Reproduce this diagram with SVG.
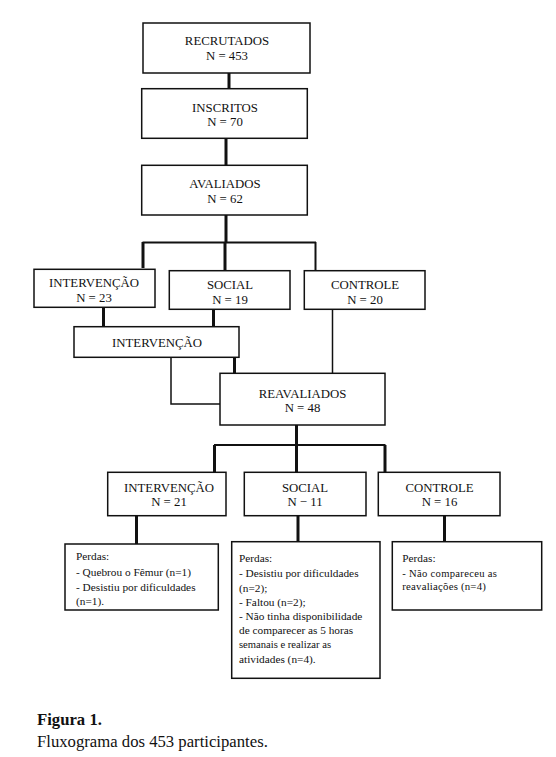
<svg xmlns="http://www.w3.org/2000/svg" width="556" height="757" viewBox="0 0 556 757">
<style>
.box{fill:#fff;stroke:#111;stroke-width:1.5}
.t{font-family:"Liberation Serif","Times New Roman","DejaVu Serif",serif;font-size:12.8px;fill:#111;text-anchor:middle}
.s{font-family:"Liberation Serif","Times New Roman","DejaVu Serif",serif;font-size:11.3px;fill:#111}
.cap{font-family:"Liberation Serif","Times New Roman","DejaVu Serif",serif;font-size:16.7px;fill:#111}
.thick{stroke:#111;stroke-width:3;fill:none}
.thin{stroke:#111;stroke-width:1.5;fill:none}
.mid{stroke:#111;stroke-width:2;fill:none}
</style>
<rect width="556" height="757" fill="#fff"/>
<g id="connectors">
<line class="thick" x1="229" y1="73" x2="229" y2="89"/>
<line class="thick" x1="226" y1="138" x2="226" y2="165"/>
<line class="thick" x1="226" y1="215" x2="226" y2="242"/>
<line class="mid" x1="142.5" y1="242.5" x2="316" y2="242.5"/>
<line class="thick" x1="143" y1="242" x2="143" y2="268"/>
<line class="thick" x1="225" y1="242" x2="225" y2="270"/>
<line class="mid" x1="315.5" y1="242" x2="315.5" y2="270"/>
<line class="thick" x1="103.5" y1="307" x2="103.5" y2="327"/>
<line class="thick" x1="213.5" y1="309" x2="213.5" y2="327"/>
<line class="thick" x1="234.5" y1="357" x2="234.5" y2="373"/>
<polyline class="thin" points="171,357 171,404 220,404"/>
<line class="thin" x1="332.5" y1="309" x2="332.5" y2="373"/>
<line class="thick" x1="296.5" y1="425" x2="296.5" y2="445"/>
<line class="mid" x1="214" y1="445" x2="385.5" y2="445"/>
<line class="thick" x1="214.5" y1="445" x2="214.5" y2="472"/>
<line class="thick" x1="296.5" y1="445" x2="296.5" y2="472"/>
<line class="thick" x1="385" y1="445" x2="385" y2="472"/>
<line class="thick" x1="136.5" y1="516" x2="136.5" y2="544"/>
<line class="thick" x1="298" y1="516" x2="298" y2="542"/>
<line class="thick" x1="444.5" y1="516" x2="444.5" y2="542"/>
</g>
<g id="recrutados"><rect class="box" x="143" y="23" width="167" height="50"/><text class="t" x="227" y="45">RECRUTADOS</text><text class="t" x="227" y="60">N = 453</text></g>
<g id="inscritos"><rect class="box" x="141.7" y="88.7" width="165.6" height="49.6"/><text class="t" x="225" y="111.5">INSCRITOS</text><text class="t" x="225" y="126">N = 70</text></g>
<g id="avaliados"><rect class="box" x="141.7" y="165.3" width="165.6" height="49.7"/><text class="t" x="225" y="188">AVALIADOS</text><text class="t" x="225" y="203">N = 62</text></g>
<g id="intervencao1"><rect class="box" x="34" y="269.3" width="121" height="38"/><text class="t" x="94" y="287.3">INTERVENÇÃO</text><text class="t" x="94" y="302.3">N = 23</text></g>
<g id="social1"><rect class="box" x="169.3" y="270.7" width="120.7" height="38.6"/><text class="t" x="230" y="289">SOCIAL</text><text class="t" x="230" y="304">N = 19</text></g>
<g id="controle1"><rect class="box" x="304.3" y="270.7" width="120.7" height="38.6"/><text class="t" x="365" y="289">CONTROLE</text><text class="t" x="365" y="304">N = 20</text></g>
<g id="intervencao-mid"><rect class="box" x="74" y="326.7" width="165" height="30.6"/><text class="t" x="157" y="346.7">INTERVENÇÃO</text></g>
<g id="reavaliados"><rect class="box" x="220" y="373.3" width="165" height="51.7"/><text class="t" x="302.5" y="398.3">REAVALIADOS</text><text class="t" x="302.5" y="412">N = 48</text></g>
<g id="intervencao2"><rect class="box" x="107.7" y="472.3" width="118.3" height="43.4"/><text class="t" x="169" y="491.7">INTERVENÇÃO</text><text class="t" x="169" y="505.5">N = 21</text></g>
<g id="social2"><rect class="box" x="244.3" y="472.3" width="121.7" height="43.4"/><text class="t" x="305" y="491.7">SOCIAL</text><text class="t" x="305" y="505.5">N − 11</text></g>
<g id="controle2"><rect class="box" x="378.3" y="472.3" width="121.7" height="43.4"/><text class="t" x="439.5" y="491.7">CONTROLE</text><text class="t" x="439.5" y="505.5">N = 16</text></g>
<g id="perdas-intervencao"><rect class="box" x="65" y="544" width="153.3" height="66"/>
<text class="s" x="76" y="560">Perdas:</text>
<text class="s" x="76" y="575.7">- Quebrou o Fêmur (n=1)</text>
<text class="s" x="76" y="591">- Desistiu por dificuldades</text>
<text class="s" x="76" y="605.3">(n=1).</text></g>
<g id="perdas-social"><rect class="box" x="231.7" y="541.7" width="148.3" height="136.6"/>
<text class="s" x="239" y="561.7">Perdas:</text>
<text class="s" x="239" y="576.7">- Desistiu por dificuldades</text>
<text class="s" x="239" y="591.7">(n=2);</text>
<text class="s" x="239" y="605.7">- Faltou (n=2);</text>
<text class="s" x="239" y="620">- Não tinha disponibilidade</text>
<text class="s" x="239" y="634.3">de comparecer as 5 horas</text>
<text class="s" x="239" y="648.3" style="font-size:10.6px">semanais e realizar as</text>
<text class="s" x="239" y="663.3">atividades (n=4).</text></g>
<g id="perdas-controle"><rect class="box" x="392.3" y="541.7" width="149.4" height="68.3"/>
<text class="s" x="402.3" y="561.7">Perdas:</text>
<text class="s" x="402.3" y="576.7" style="font-size:10.6px;letter-spacing:0.3px">- Não compareceu as</text>
<text class="s" x="402.3" y="590" style="font-size:10.8px;letter-spacing:0.2px">reavaliações (n=4)</text></g>
<g id="caption">
<text class="cap" x="37" y="724.5" font-weight="bold">Figura 1.</text>
<text class="cap" x="37" y="746.5">Fluxograma dos 453 participantes.</text>
</g>
</svg>
